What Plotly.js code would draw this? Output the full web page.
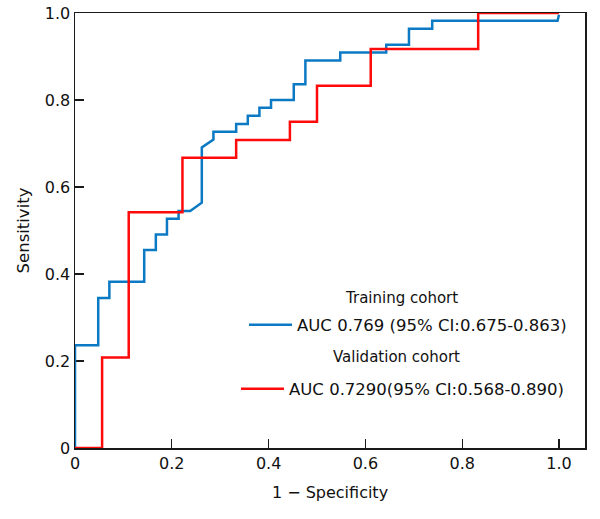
<!DOCTYPE html>
<html>
<head>
<meta charset="utf-8">
<script src="https://cdn.plot.ly/plotly-3.0.1.min.js"></script>
<style>html,body{margin:0;padding:0;background:#fff;}#chart{width:600px;height:519px;}</style>
</head>
<body>
<div id="chart"></div>
<script>
// Training cohort ROC (1 - specificity, sensitivity)
const trainFpr = [0, 0, 0.048, 0.048, 0.071, 0.071, 0.143, 0.143, 0.167, 0.167, 0.190, 0.190, 0.214, 0.214, 0.238, 0.262, 0.262, 0.286, 0.286, 0.333, 0.333, 0.357, 0.357, 0.381, 0.381, 0.405, 0.405, 0.452, 0.452, 0.476, 0.476, 0.548, 0.548, 0.643, 0.643, 0.690, 0.690, 0.738, 0.738, 0.997, 1.0];
const trainTpr = [0, 0.236, 0.236, 0.345, 0.345, 0.382, 0.382, 0.455, 0.455, 0.491, 0.491, 0.527, 0.527, 0.545, 0.545, 0.564, 0.691, 0.709, 0.727, 0.727, 0.745, 0.745, 0.764, 0.764, 0.782, 0.782, 0.800, 0.800, 0.836, 0.836, 0.891, 0.891, 0.909, 0.909, 0.927, 0.927, 0.964, 0.964, 0.982, 0.982, 0.996];
// Validation cohort ROC
const valFpr = [0, 0.056, 0.056, 0.111, 0.111, 0.222, 0.222, 0.333, 0.333, 0.444, 0.444, 0.500, 0.500, 0.611, 0.611, 0.833, 0.833, 1.0];
const valTpr = [0, 0, 0.208, 0.208, 0.542, 0.542, 0.667, 0.667, 0.708, 0.708, 0.750, 0.750, 0.833, 0.833, 0.917, 0.917, 1.0, 1.0];

const seriesNames = ["AUC 0.769 (95% CI:0.675-0.863)", "AUC 0.7290(95% CI:0.568-0.890)"];
const groupTitles = ["Training cohort", "Validation cohort"];
const tickVals = [0, 0.2, 0.4, 0.6, 0.8, 1.0];
const xTickText = ["0", "0.2", "0.4", "0.6", "0.8", "1.0"];
const yTickText = ["0", "0.2", "0.4", "0.6", "0.8", "1.0"];

const FONT = "'DejaVu Sans', 'Liberation Sans', Arial, sans-serif";

const traces = [
  {x: trainFpr, y: trainTpr, type: 'scatter', mode: 'lines', name: seriesNames[0],
   line: {color: '#0b79c4', width: 2.5}, legend: 'legend'},
  {x: valFpr, y: valTpr, type: 'scatter', mode: 'lines', name: seriesNames[1],
   line: {color: '#ff0a0a', width: 2.5}, legend: 'legend2'}
];

const axisCommon = {
  showgrid: false, zeroline: false, showline: true, mirror: true,
  linecolor: '#1a1a1a', linewidth: 1.5, ticks: 'inside', ticklen: 9,
  tickwidth: 1.3, tickcolor: '#1a1a1a', layer: 'below traces',
  tickfont: {family: FONT, size: 16, color: '#111'}
};

const layout = {
  width: 600, height: 519,
  margin: {l: 75, r: 15, t: 13, b: 71},
  paper_bgcolor: '#fff', plot_bgcolor: '#fff',
  font: {family: FONT, color: '#111'},
  xaxis: Object.assign({}, axisCommon, {
    range: [0, 1.0537], tickvals: tickVals, ticktext: xTickText,
    title: {text: '1 − Specificity', font: {family: FONT, size: 16, color: '#111'}, standoff: 15}
  }),
  yaxis: Object.assign({}, axisCommon, {
    range: [0, 1.0], tickvals: tickVals, ticktext: yTickText,
    title: {text: 'Sensitivity', font: {family: FONT, size: 16.5, color: '#111'}, standoff: 11}
  }),
  showlegend: true,
  legend: {
    x: (244 - 75) / 510, y: (448 - 325) / 435, xanchor: 'left', yanchor: 'middle',
    bgcolor: 'rgba(0,0,0,0)', borderwidth: 0, itemwidth: 43,
    font: {family: FONT, size: 16.5, color: '#111'}
  },
  legend2: {
    x: (236 - 75) / 510, y: (448 - 389) / 435, xanchor: 'left', yanchor: 'middle',
    bgcolor: 'rgba(0,0,0,0)', borderwidth: 0, itemwidth: 43,
    font: {family: FONT, size: 16.5, color: '#111'}
  },
  annotations: [
    {text: groupTitles[0], xref: 'paper', yref: 'paper', x: (401 - 75) / 510, y: (448 - 298) / 435,
     xanchor: 'center', yanchor: 'middle', showarrow: false, font: {family: FONT, size: 15, color: '#111'}},
    {text: groupTitles[1], xref: 'paper', yref: 'paper', x: (396 - 75) / 510, y: (448 - 357) / 435,
     xanchor: 'center', yanchor: 'middle', showarrow: false, font: {family: FONT, size: 15, color: '#111'}}
  ]
};

Plotly.newPlot('chart', traces, layout, {displayModeBar: false, staticPlot: true});
</script>
</body>
</html>
